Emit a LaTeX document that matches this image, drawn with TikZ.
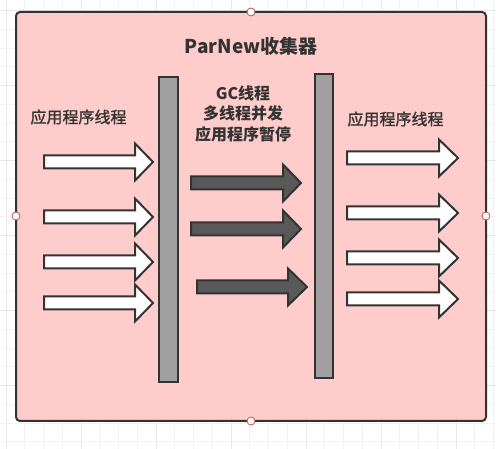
\documentclass[tikz,border=0pt]{standalone}
\usepackage{fontspec}
\setmainfont{Noto Sans CJK SC}
\newfontfamily\sidefont[FakeBold=1.2]{Noto Sans CJK SC}
\definecolor{boxfill}{HTML}{FFCCCC}
\definecolor{ink}{HTML}{333333}
\definecolor{barfill}{HTML}{A0A0A0}
\definecolor{darkarrow}{HTML}{595959}
\definecolor{gridminor}{HTML}{F2F2F2}
\definecolor{gridmajor}{HTML}{E6E6E6}
\definecolor{handle}{HTML}{B85450}
\tikzset{
  outerbox/.style={draw=ink, line width=2pt, fill=boxfill, rounded corners=4pt},
  barbox/.style={draw=ink, line width=2pt, fill=barfill},
  whitearrow/.style={draw=ink, line width=2pt, fill=white, line join=miter},
  grayarrow/.style={draw=ink, line width=2pt, fill=darkarrow, line join=miter},
  label/.style={text=ink, font=\fontsize{16}{20.5}\selectfont, align=center, inner sep=0pt},
  sidelabel/.style={label, font=\sidefont\fontsize{16}{20.5}\selectfont},
  titlelabel/.style={text=ink, font=\fontsize{19}{22}\selectfont\bfseries, inner sep=0pt},
  handledot/.style={circle, draw=handle, fill=white, line width=0.8pt, minimum size=8pt, inner sep=0pt},
}
% #1 style, #2 shaft start x, #3 head base x, #4 tip x, #5 centre y
\newcommand\blockarr[5]{%
  \draw[#1] (#2,#5-6.5) -- (#3,#5-6.5) -- (#3,#5-18.5) -- (#4,#5) -- (#3,#5+18.5) -- (#3,#5+6.5) -- (#2,#5+6.5) -- cycle;}
\begin{document}
\begin{tikzpicture}[x=1pt,y=-1pt]
\useasboundingbox (0,0) rectangle (496,449);
\fill[white] (0,0) rectangle (496,449);
% grid
\foreach \k in {0,...,26} {
  \pgfmathsetmacro\gx{6+18.75*\k}
  \pgfmathtruncatemacro\mj{mod(\k,4)}
  \ifnum\mj=0 \draw[gridmajor, line width=0.8pt] (\gx,0) -- (\gx,449);
  \else \draw[gridminor, line width=0.8pt] (\gx,0) -- (\gx,449); \fi
}
\foreach \k in {0,...,24} {
  \pgfmathsetmacro\gy{10.5+18.75*\k}
  \pgfmathtruncatemacro\mj{mod(\k,4)}
  \ifnum\mj=0 \draw[gridmajor, line width=0.8pt] (0,\gy) -- (496,\gy);
  \else \draw[gridminor, line width=0.8pt] (0,\gy) -- (496,\gy); \fi
}
% outer box
\draw[outerbox] (16,12) rectangle (486,421);
\coordinate (boxN) at (251,12);
\coordinate (boxS) at (251,421);
\coordinate (boxW) at (16,216);
\coordinate (boxE) at (486,216);
% title
\node[titlelabel] (title) at (251,46) {ParNew收集器};
% bars
\draw[barbox] (159,77) rectangle (178,382);
\draw[barbox] (315,74) rectangle (333,378);
% labels
\node[sidelabel] (lefttext) at (78.5,117) {应用程序线程};
\node[sidelabel] (righttext) at (395.5,119) {应用程序线程};
\node[label, font=\fontsize{16}{20.5}\selectfont\bfseries] (gctext) at (243,113.5) {GC线程\\多线程并发\\应用程序暂停};
% left arrows
\foreach \y in {162,217,262,303} { \blockarr{whitearrow}{44}{135}{153}{\y} }
% right arrows
\foreach \y in {158,213,258,299} { \blockarr{whitearrow}{347}{439}{458}{\y} }
% gc arrows
\blockarr{grayarrow}{191}{283}{301}{183}
\blockarr{grayarrow}{191}{283}{301}{229}
\blockarr{grayarrow}{197}{288}{307}{287}
% handles
\node[handledot] (hN) at (boxN) {};
\node[handledot] (hS) at (boxS) {};
\node[handledot] (hW) at (boxW) {};
\node[handledot] (hE) at (boxE) {};
\end{tikzpicture}
\end{document}
